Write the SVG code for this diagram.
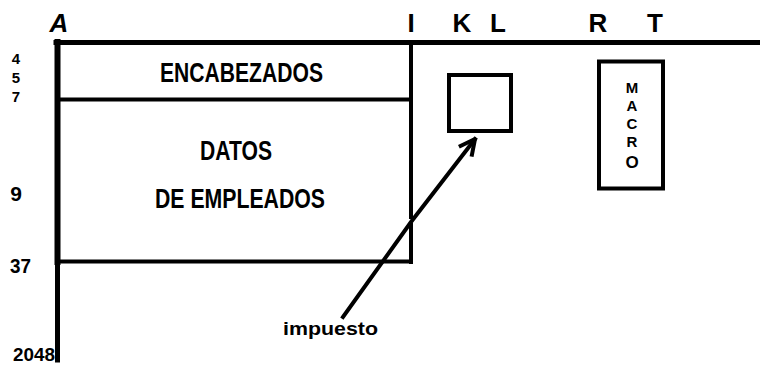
<svg xmlns="http://www.w3.org/2000/svg" width="760" height="367" viewBox="0 0 760 367">
<style>
.ln{stroke:#000;fill:none;stroke-linecap:square}
.t{font-family:"Liberation Sans",Arial,sans-serif;font-weight:bold;fill:#000}
</style>
<defs>
<marker id="ah" viewBox="0 0 20 20" refX="18" refY="10" markerWidth="20" markerHeight="20" markerUnits="userSpaceOnUse" orient="auto">
<path d="M2,2 L18,10 L2,18" fill="none" stroke="#000" stroke-width="4" stroke-linejoin="miter"/>
</marker>
</defs>
<rect width="760" height="367" fill="#fff"/>
<g id="axes">
<line class="ln" x1="56" y1="42.5" x2="760" y2="42.5" stroke-width="5"/>
<line class="ln" x1="57.5" y1="42" x2="57.5" y2="262" stroke-width="6"/>
<line class="ln" x1="57.5" y1="262" x2="57.5" y2="360" stroke-width="5"/>
</g>
<g id="col-labels" class="t">
<text x="59" y="32" font-size="26" text-anchor="middle" font-style="italic">A</text>
<text x="411" y="32" font-size="26" text-anchor="middle">I</text>
<text x="462" y="32" font-size="26" text-anchor="middle">K</text>
<text x="498" y="32" font-size="26" text-anchor="middle">L</text>
<text x="598" y="32" font-size="26" text-anchor="middle">R</text>
<text x="655" y="32" font-size="26" text-anchor="middle">T</text>
</g>
<g id="row-labels" class="t">
<text x="16" y="64" font-size="15" text-anchor="middle">4</text>
<text x="16" y="83" font-size="15" text-anchor="middle">5</text>
<text x="16" y="102" font-size="15" text-anchor="middle">7</text>
<text x="16" y="201" font-size="21" text-anchor="middle">9</text>
<text x="10" y="273" font-size="20" textLength="21" lengthAdjust="spacingAndGlyphs">37</text>
<text x="13" y="361" font-size="19" textLength="42" lengthAdjust="spacingAndGlyphs">2048</text>
</g>
<g id="datos-block">
<line class="ln" x1="60" y1="99.5" x2="411" y2="99.5" stroke-width="4"/>
<line class="ln" x1="411" y1="42" x2="411" y2="217" stroke-width="4"/>
<line class="ln" x1="411" y1="225" x2="411" y2="262" stroke-width="4"/>
<line class="ln" x1="60" y1="261.5" x2="411" y2="261.5" stroke-width="4"/>
<text class="t" x="160" y="82" font-size="27" textLength="163" lengthAdjust="spacingAndGlyphs">ENCABEZADOS</text>
<text class="t" x="200" y="160" font-size="27" textLength="72" lengthAdjust="spacingAndGlyphs">DATOS</text>
<text class="t" x="155" y="208" font-size="27" textLength="170" lengthAdjust="spacingAndGlyphs">DE EMPLEADOS</text>
</g>
<g id="cell-kl">
<rect class="ln" x="449" y="75" width="62" height="56" stroke-width="4"/>
</g>
<g id="macro">
<rect class="ln" x="599" y="61.5" width="64" height="127" stroke-width="4"/>
<g class="t" font-size="15" text-anchor="middle">
<text x="632" y="93">M</text>
<text x="632" y="111">A</text>
<text x="632" y="129">C</text>
<text x="632" y="147">R</text>
<text x="632" y="168" font-size="17">O</text>
</g>
</g>
<g id="label-impuesto">
<text class="t" x="283" y="335" font-size="18" textLength="95" lengthAdjust="spacingAndGlyphs">impuesto</text>
</g>
<g id="connectors">
<polyline class="ln" points="343,317 411,222 475,139" stroke-width="4" stroke-linecap="round" marker-end="url(#ah)"/>
</g>
</svg>
